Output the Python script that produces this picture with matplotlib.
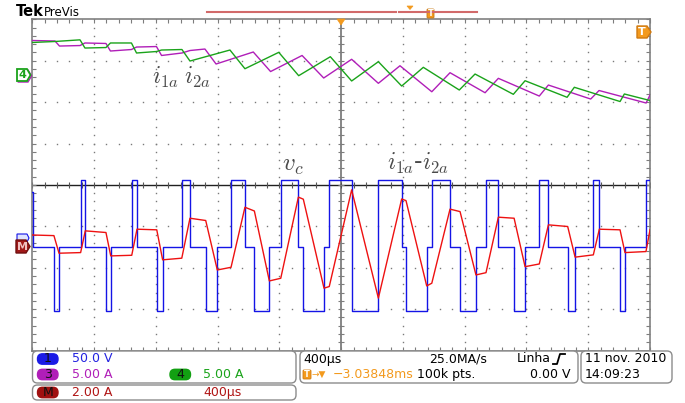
import numpy as np
import matplotlib.pyplot as plt
from matplotlib.patches import FancyBboxPatch, Polygon
from matplotlib.transforms import IdentityTransform

plt.rcParams['mathtext.fontset'] = 'cm'

W, H = 685, 403

# time in microseconds from the left edge of the screen (400 us/div)
vc_t = [0, 5, 140, 173, 313, 343, 477, 508, 644, 678,
        806, 844, 968, 1021, 1123, 1198, 1287, 1377, 1438, 1535,
        1609, 1723, 1755, 1889, 1923, 2068, 2241, 2392, 2420, 2554,
        2587, 2705, 2770, 2873, 2938, 3018, 3120, 3191, 3283, 3342,
        3467, 3515, 3633, 3672, 3806, 3838, 3974, 4000]
# channel 1, v_c in volts
vc_v = [66, 0, -78, 0, 80, 0, -78, 0, 80, 0,
        -78, 0, 80, 0, -78, 0, 80, 0, -78, 0,
        80, 0, -78, 0, 80, -78, 80, 0, -78, 0,
        80, 0, -78, 0, 80, 0, -78, 0, 80, 0,
        -78, 0, 80, 0, -78, 0, 80, 80]

# math channel, i1a - i2a in amps
im_t = [0, 140, 173, 313, 343, 477, 508, 644, 678, 806,
        844, 968, 1021, 1123, 1198, 1287, 1377, 1438, 1535, 1609,
        1723, 1755, 1889, 1923, 2068, 2241, 2392, 2420, 2554, 2587,
        2705, 2770, 2873, 2938, 3018, 3120, 3191, 3283, 3342, 3467,
        3515, 3633, 3672, 3806, 3838, 3974, 4000]
im_v = [0.56, 0.53, -0.32, -0.29, 0.76, 0.68, -0.45, -0.42, 0.84, 0.81,
        -0.64, -0.56, 1.37, 1.26, -1.13, -1.00, 1.90, 1.72, -1.66, -1.53,
        2.39, 2.29, -2.01, -1.93, 2.74, -2.49, 2.30, 2.22, -1.90, -1.77,
        1.81, 1.69, -1.37, -1.26, 1.42, 1.37, -0.97, -0.84, 1.05, 0.97,
        -0.51, -0.40, 0.84, 0.81, -0.29, -0.24, 0.81]

# channel 3, i1a in amps
i1_t = [0, 147, 176, 309, 341, 477, 506, 642, 675, 804,
        837, 969, 1021, 1118, 1190, 1431, 1543, 1747, 1887, 2068,
        2241, 2381, 2587, 2705, 2932, 3018, 3283, 3342, 3616, 3670,
        3975, 4000]
i1_v = [4.29, 4.23, 3.62, 3.68, 3.99, 3.93, 3.02, 3.20, 3.50, 3.56,
        2.48, 2.78, 3.08, 3.26, 1.45, 2.90, 0.54, 2.48, -0.24, 2.02,
        -0.88, 1.24, -1.90, 0.40, -2.02, -0.28, -2.42, -1.09, -2.78, -1.75,
        -3.26, -2.29]

# channel 4, i2a in amps
i2_t = [0, 147, 309, 341, 477, 506, 642, 675, 804, 837,
        969, 1021, 1280, 1377, 1596, 1725, 1930, 2068, 2241, 2392,
        2532, 2765, 2867, 3115, 3191, 3463, 3510, 3806, 3834, 4000]
i2_v = [4.05, 4.17, 4.37, 3.38, 3.44, 3.99, 3.99, 2.78, 2.96, 3.14,
        3.20, 1.81, 3.14, 0.88, 2.86, 0.04, 2.33, -0.60, 1.73, -1.21,
        1.05, -1.69, 0.24, -2.21, -0.57, -2.57, -1.36, -3.08, -2.17, -2.96]

# scope settings: units per division and marker position (divisions)
CH1 = (50.0, -1.49)
MATH = (2.0, -1.49)
CH34 = (5.0, 2.63)


def to_div(vals, setting):
    scale, pos = setting
    return np.asarray(vals) / scale + pos


ID = IdentityTransform()

fig = plt.figure(figsize=(W / 100, H / 100), dpi=100)
ax = fig.add_axes([32.3 / W, 1 - 350.5 / H, (650 - 32.3) / W, (350.5 - 19.3) / H])
ax.set_xlim(0, 4000)
ax.set_ylim(-4, 4)

# graticule
minor_x = np.arange(0, 4001, 80)
minor_y = np.round(np.arange(-4, 4.01, 0.2), 2)
for k in range(1, 10):
    if k == 5:
        continue
    ax.plot(np.full(minor_y.shape, k * 400), minor_y, ls='none', marker='s',
            ms=1.0, mew=0, color='#7a7a7a', zorder=1)
for j in range(-3, 4):
    if j == 0:
        continue
    ax.plot(minor_x, np.full(minor_x.shape, j, dtype=float), ls='none', marker='s',
            ms=1.0, mew=0, color='#7a7a7a', zorder=1)
ax.axvline(2000, color='#7d7d7d', lw=1.3, zorder=1)
ax.axhline(0, color='#202020', lw=1.0, zorder=1)
ax.plot(minor_x, np.zeros(minor_x.shape), ls='none', marker='|', ms=4, mew=0.8,
        color='#555555', zorder=1)
ax.plot(np.full(minor_y.shape, 2000), minor_y, ls='none', marker='_', ms=5, mew=0.8,
        color='#7d7d7d', zorder=1)

ax.set_xticks(minor_x)
ax.set_yticks(minor_y)
ax.tick_params(direction='in', length=3, width=0.8, color='#7d7d7d', top=True,
               right=True, labelbottom=False, labelleft=False)
for s in ax.spines.values():
    s.set_color('#808080')
    s.set_linewidth(1.2)

# traces
ax.step(vc_t, to_div(vc_v, CH1), where='post', color='#1414e6', lw=1.0, zorder=3)
ax.plot(im_t, to_div(im_v, MATH), color='#ee1111', lw=1.0, zorder=4)
ax.plot(i1_t, to_div(i1_v, CH34), color='#b01eb8', lw=1.0, zorder=3)
ax.plot(i2_t, to_div(i2_v, CH34), color='#1aa31a', lw=1.0, zorder=4)


def label(x, y, s, color='black', size=9, ha='left', va='center', **kw):
    fig.text(x, H - y, s, transform=ID, color=color, fontsize=size, ha=ha, va=va, **kw)


def rbox(x0, y0, x1, y1, fc='white', ec='#8c8c8c', r=5, lw=1.0):
    p = FancyBboxPatch((x0, H - y1), x1 - x0, y1 - y0,
                       boxstyle=f'round,pad=0,rounding_size={r}',
                       transform=ID, fc=fc, ec=ec, lw=lw)
    fig.add_artist(p)


def poly(pts, fc, ec, lw=1.0):
    p = Polygon([(x, H - y) for x, y in pts], closed=True, transform=ID,
                fc=fc, ec=ec, lw=lw)
    fig.add_artist(p)


# annotations on the traces
grey = '#4a4a4a'
label(152, 84, '$i_{1a}$', grey, 17, va='baseline')
label(184, 84, '$i_{2a}$', grey, 17, va='baseline')
label(282, 171, '$v_c$', grey, 18, va='baseline')
label(387, 170, '$i_{1a}$-$i_{2a}$', grey, 17, va='baseline')

# header
label(16, 12, 'Tek', 'black', 10.5, weight='bold')
label(44, 12, 'PreVis', 'black', 8.5)
fig.add_artist(plt.Line2D([207, 396], [H - 12, H - 12], transform=ID, color='#d26a6a', lw=1.5))
fig.add_artist(plt.Line2D([399, 477], [H - 12, H - 12], transform=ID, color='#d26a6a', lw=1.5))
poly([(407, 6), (413, 6), (410, 9.5)], '#f39a1e', '#f39a1e', 0.5)
rbox(427, 9, 434, 18, fc='#f39a1e', ec='#c87810', r=1, lw=0.6)
label(430.5, 13.5, 'T', 'white', 6, ha='center', weight='bold')
poly([(337, 19), (345, 19), (341, 25)], '#f39a1e', '#f39a1e', 0.5)

# channel markers
poly([(637, 26), (647, 26), (651, 32), (647, 38), (637, 38)], '#f39a1e', '#d07a10')
label(642, 32, 'T', 'white', 8, ha='center', weight='bold')
poly([(18, 70), (28, 70), (31.5, 76), (28, 82), (18, 82)], 'white', '#b01eb8')
poly([(17, 69), (27, 69), (30.5, 75), (27, 81), (17, 81)], 'white', '#1aa31a', 1.3)
label(22.5, 75.5, '4', '#1aa31a', 8, ha='center', weight='bold')
poly([(17, 234), (27, 234), (29, 238), (27, 242), (17, 242)], '#dfe4ff', '#1414e6', 0.8)
poly([(16, 240), (26, 240), (30, 246.5), (26, 253), (16, 253)], '#a01818', '#701010')
label(22, 246.5, 'M', '#f0c0c0', 8, ha='center', weight='bold')

# bottom readout
rbox(32.5, 351, 296, 383)
rbox(32.5, 385, 296, 400)
rbox(300, 351, 578, 383)
rbox(581, 351, 672, 383)

badges = [(359, 37.5, '1', '#1b1be6'), (374.5, 37.5, '3', '#b01eb8'),
          (374.5, 170, '4', '#12a012'), (392.5, 37.5, 'M', '#a01010')]
for y, x, s, c in badges:
    rbox(x, y - 5.2, x + 20.5, y + 5.2, fc=c, ec=c, r=5)
    label(x + 10.2, y, s, '#101010', 9, ha='center')

label(72, 359, '50.0 V', '#2323e0', 9)
label(72, 374.5, '5.00 A', '#b01eb8', 9)
label(203, 374.5, '5.00 A', '#1aa31a', 9)
label(72, 392.5, '2.00 A', '#b01515', 9)
label(203, 392.5, '400\u00b5s', '#b01515', 9)

label(303, 359, '400\u00b5s', 'black', 9)
label(487, 359, '25.0MA/s', 'black', 9, ha='right')
label(517, 359, 'Linha', 'black', 9)
fig.add_artist(plt.Line2D([553, 557, 560, 565], [H - 364, H - 364, H - 354, H - 354],
                          transform=ID, color='black', lw=1.3))
rbox(303, 370, 311, 379, fc='#f39a1e', ec='#d07a10', r=1, lw=0.6)
label(307, 374.5, 'T', 'white', 6, ha='center', weight='bold')
label(312, 374.5, '\u2192\u25bc', '#f39a1e', 6.5)
label(413, 374.5, '\u22123.03848ms', '#f39a1e', 9, ha='right')
label(417, 374.5, '100k pts.', 'black', 9)
label(570, 374.5, '0.00 V', 'black', 9, ha='right')
label(585, 359, '11 nov. 2010', 'black', 9)
label(585, 374.5, '14:09:23', 'black', 9)

fig.savefig('out.png', dpi=100)
